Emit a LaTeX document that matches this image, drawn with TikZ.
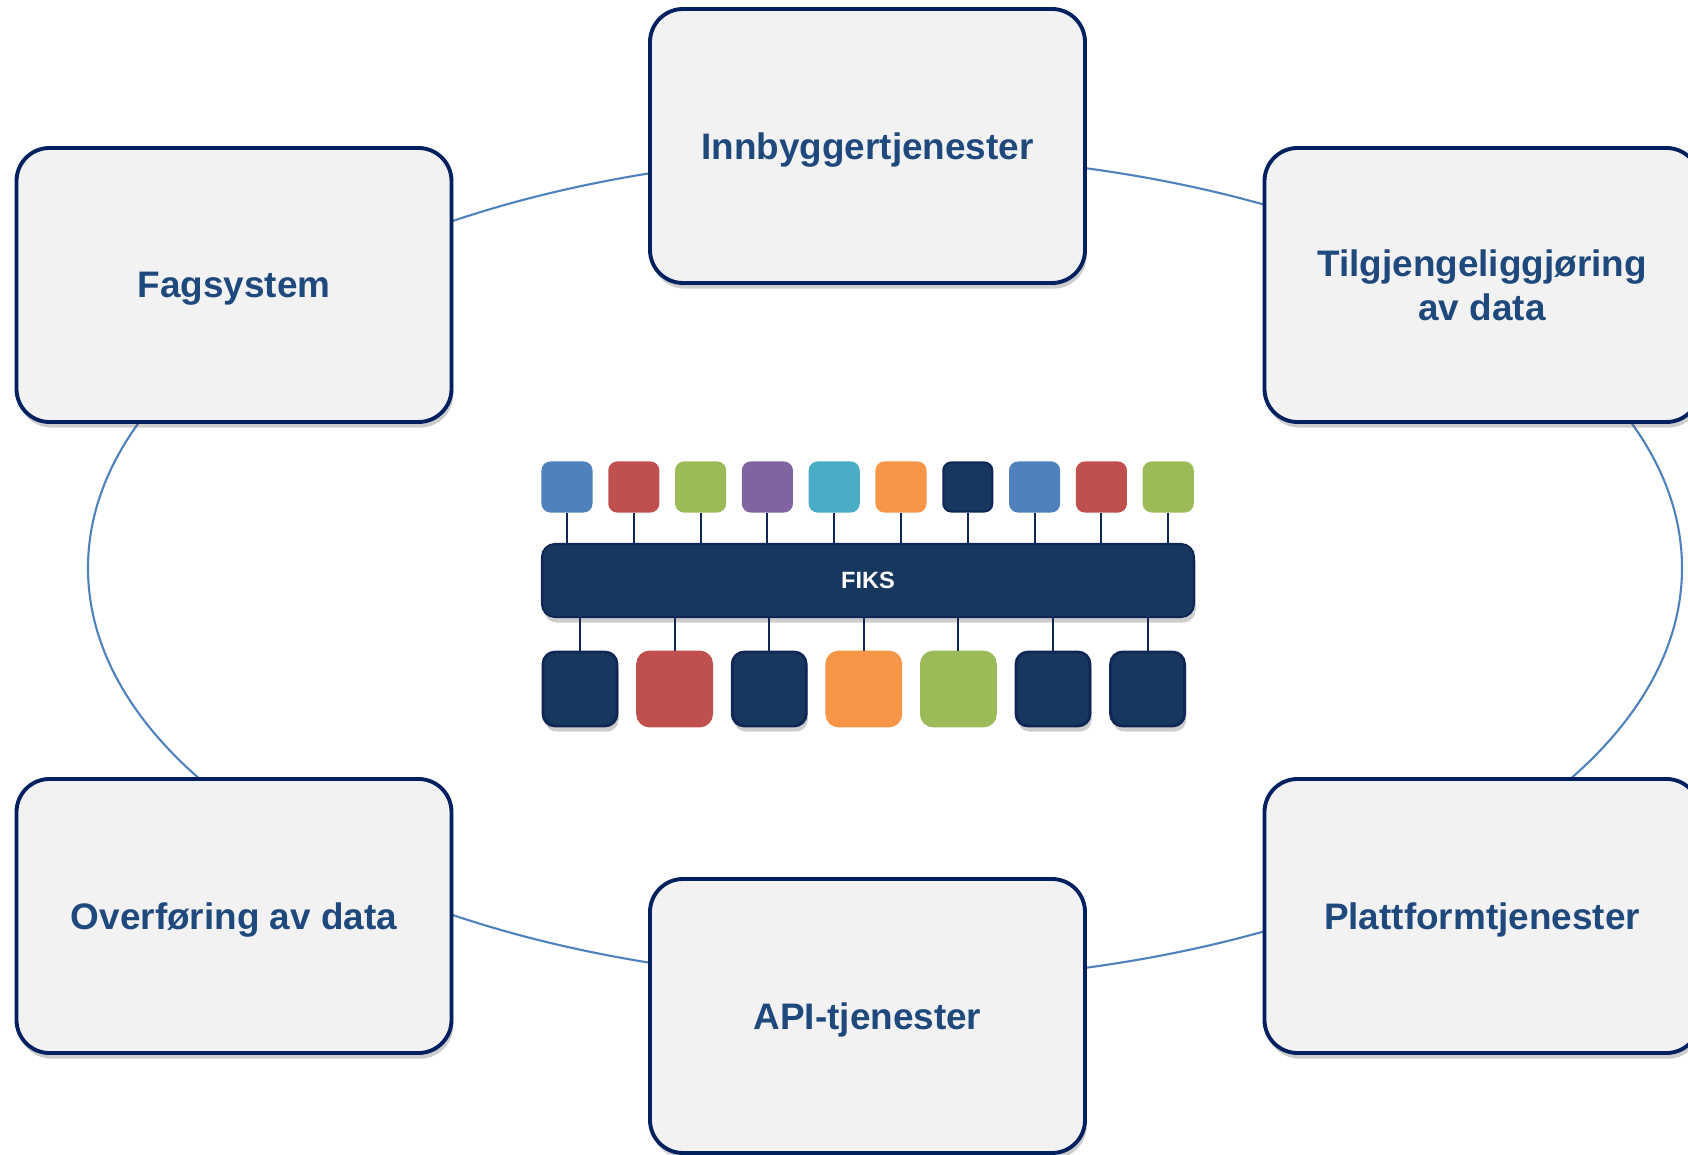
\documentclass[tikz,border=0pt]{standalone}
\usepackage{fontspec}
\setmainfont{Liberation Sans}
\usepackage{xcolor}
\usepackage{tikz}
\usetikzlibrary{shadows}
\definecolor{textblue}{HTML}{1F497D}
\definecolor{frame}{HTML}{002060}
\definecolor{panel}{HTML}{F2F2F2}
\definecolor{ring}{HTML}{4F81BD}
\definecolor{navy}{HTML}{17375E}
\definecolor{navyedge}{HTML}{0F2656}
\definecolor{cblue}{HTML}{4F81BD}
\definecolor{cred}{HTML}{C0504D}
\definecolor{cgreen}{HTML}{9BBB59}
\definecolor{cpurple}{HTML}{8064A2}
\definecolor{cteal}{HTML}{4BACC6}
\definecolor{corange}{HTML}{F79646}
\tikzset{
  softshadow/.style={drop shadow={shadow xshift=0.5pt, shadow yshift=-1.6pt, opacity=0.28, fill=black!70}},
  flat/.style={},
  area/.style={draw=frame, line width=1.1pt, fill=panel, rounded corners=0.33cm,
    minimum width=4.35cm, minimum height=2.74cm, text=textblue, align=center,
    font=\fontsize{10.5}{12.5}\selectfont\bfseries, softshadow},
  oneline/.style={text depth=0pt},
  ringline/.style={draw=ring, line width=0.6pt},
  bus/.style={draw=navyedge, line width=0.6pt, fill=navy, rounded corners=0.13cm,
    minimum width=6.52cm, minimum height=0.73cm, text=white,
    font=\fontsize{6.7}{8}\selectfont\bfseries, softshadow},
  sbox/.style={rounded corners=0.08cm, minimum width=0.49cm, minimum height=0.49cm,
    inner sep=0pt, line width=0.6pt},
  lbox/.style={rounded corners=0.12cm, minimum width=0.74cm, minimum height=0.74cm,
    inner sep=0pt, line width=0.8pt},
  link/.style={draw=navyedge, line width=0.55pt}
}

\begin{document}
\begin{tikzpicture}
  \useasboundingbox (0,0) rectangle (16.88,11.54);

  % ring behind the areas
  \draw[ringline] (8.85,5.86) ellipse [x radius=7.97, y radius=4.13];

  \node[area, oneline] (inn)   at (8.675,10.08) {Innbyggertjenester};
  \node[area, oneline] (fag)   at (2.34,8.69)   {Fagsystem};
  \node[area]          (tilg)  at (14.82,8.69)  {Tilgjengeliggjøring\\av data};
  \node[area, oneline] (over)  at (2.34,2.38)   {Overføring av data};
  \node[area, oneline] (api)   at (8.675,1.38)  {API-tjenester};
  \node[area, oneline] (platt) at (14.82,2.38)  {Plattformtjenester};

  % FIKS bus
  \node[bus] (fiks) at (8.68,5.735) {FIKS};

  \foreach \c/\e [count=\i] in {cblue/cblue, cred/cred, cgreen/cgreen, cpurple/cpurple,
      cteal/cteal, corange/corange, navy/navyedge, cblue/cblue, cred/cred, cgreen/cgreen} {
    \node[sbox, fill=\c, draw=\e] (t\i) at ({5.67+0.668*(\i-1)},6.67) {};
    \draw[link] (t\i.south) -- (t\i.south |- fiks.north);
  }

  \foreach \c/\e/\s [count=\i] in {navy/navyedge/softshadow, cred/cred/flat,
      navy/navyedge/softshadow, corange/corange/flat, cgreen/cgreen/flat,
      navy/navyedge/softshadow, navy/navyedge/softshadow} {
    \node[lbox, fill=\c, draw=\e, \s] (b\i) at ({5.80+0.946*(\i-1)},4.65) {};
    \draw[link] (b\i.north) -- (b\i.north |- fiks.south);
  }
\end{tikzpicture}
\end{document}
